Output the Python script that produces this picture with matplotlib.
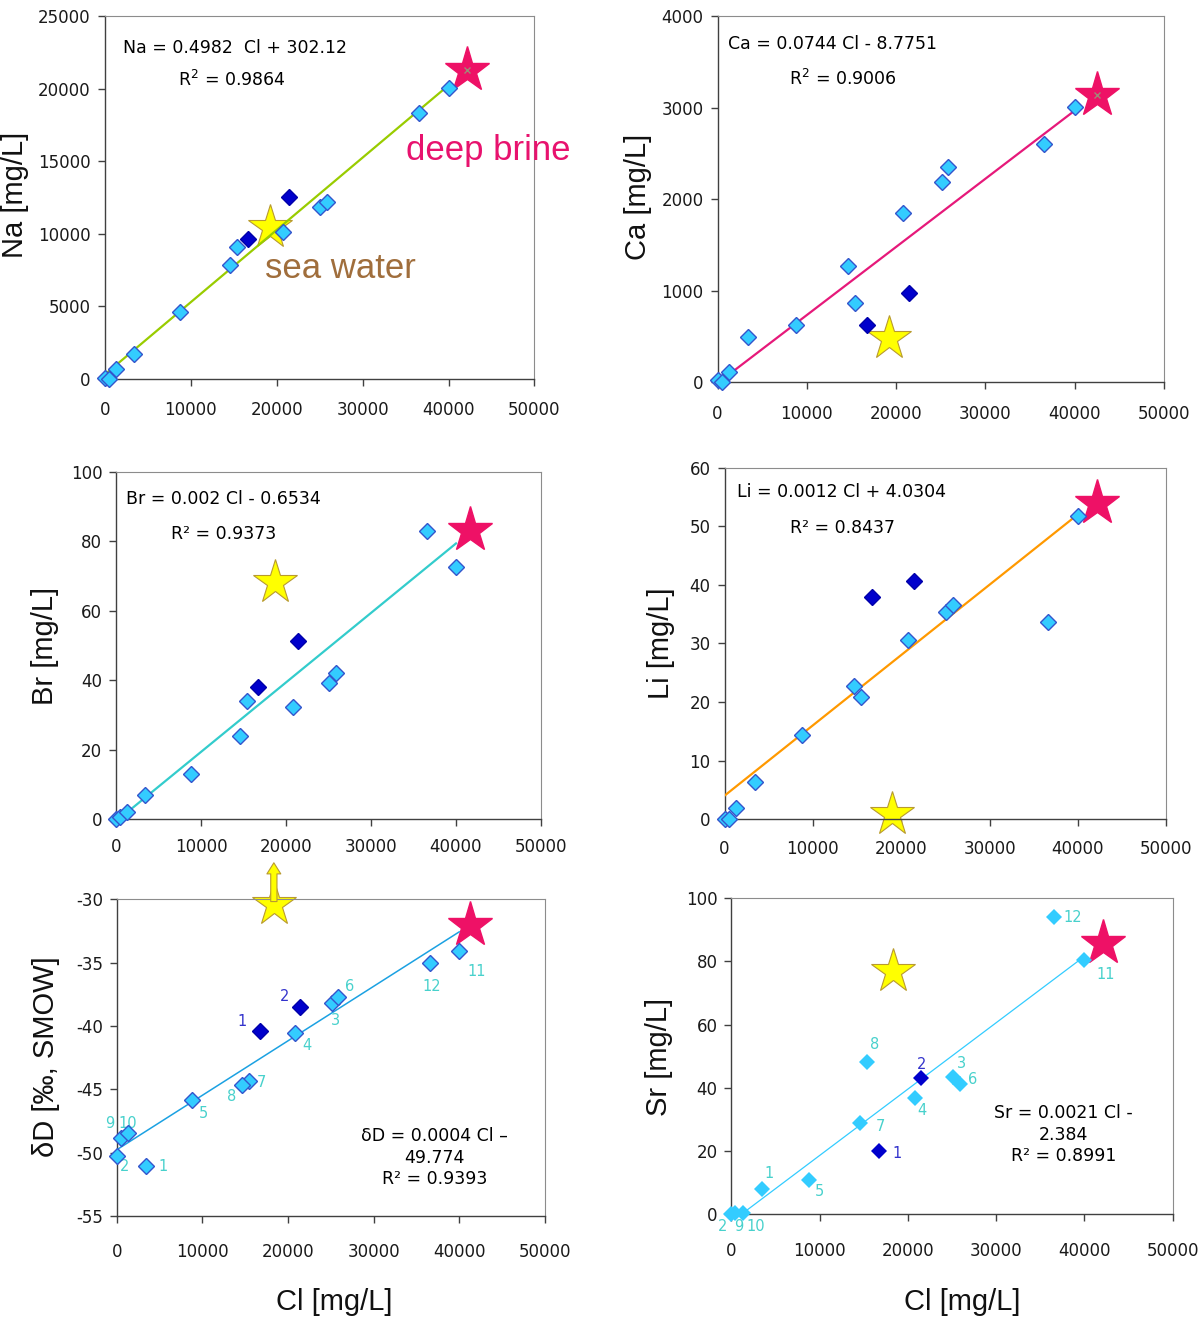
import numpy as np
import matplotlib.pyplot as plt

plt.rcParams['axes.unicode_minus'] = False
plt.rcParams['font.family'] = ['DejaVu Sans']

# wells 1-12 (light blue) and 1-2 (dark blue); Cl in mg/L
sample_ids = ['1', '2', '3', '4', '5', '6', '7', '8', '9', '10', '11', '12']
dark_ids = ['1', '2']
cl = np.array([3420, 0, 25100, 20800, 8750, 25850, 15400, 14620, 450, 1300, 40000, 36580])
cl_dark = np.array([16720, 21450])

na = [1750, 50, 11870, 10150, 4640, 12220, 9070, 7850, 30, 700, 20020, 18300]
na_dark = [9620, 12560]
ca = [491, 25, 2184, 1845, 626, 2348, 862, 1274, 7, 116, 3010, 2599]
ca_dark = [626, 971]
br = [6.9, 0, 39.3, 32.3, 13.0, 41.9, 34.1, 24.0, 0.7, 2.1, 72.6, 82.9]
br_dark = [37.9, 51.3]
li = [6.4, 0, 35.4, 30.6, 14.3, 36.5, 20.8, 22.8, 0, 2.0, 51.8, 33.6]
li_dark = [38.0, 40.6]
dd = [-51.05, -50.26, -38.21, -40.53, -45.84, -37.68, -44.32, -44.66, -48.87, -48.47, -34.08, -35.05]
dd_dark = [-40.39, -38.53]
sr = [7.9, 0, 43.4, 36.7, 10.7, 41.1, 48.1, 28.8, 0.5, 0.5, 80.3, 94.0]
sr_dark = [20.1, 43.0]
sr_ids = ['1', '2', '3', '4', '5', '6', '8', '7', '9', '10', '11', '12']

# end members per panel: Na, Ca, Br, Li, dD, Sr
sea_cl = [19250, 19230, 18710, 18990, 18350, 18320]
sea_val = [10500, 480, 68.3, 0.85, -30.4, 77.0]
brine_cl = [42200, 42530, 41700, 42150, 41320, 42100]
brine_val = [21280, 3137, 83.2, 53.9, -32.0, 85.8]

# regression lines
fit_slope = [0.4982, 0.0744, 0.002, 0.0012, 0.00043, 0.0021]
fit_icpt = [302.12, -8.7751, -0.6534, 4.0304, -49.774, -2.384]

LIGHT = '#33CCFF'
EDGE = '#3355CC'
DARK = '#0000CC'
RED = '#EE1166'
YEL = '#FFFF00'
LAB_LIGHT = '#48D1CC'
LAB_DARK = '#3333CC'
FAM = ['Liberation Sans', 'DejaVu Sans']

fig = plt.figure(figsize=(12, 13.18), dpi=100)
rects = [[0.0872, 0.7124, 0.3582, 0.2754], [0.5980, 0.7099, 0.3719, 0.2779],
         [0.0968, 0.3786, 0.3540, 0.2635], [0.6038, 0.3784, 0.3681, 0.2668],
         [0.0973, 0.0774, 0.3567, 0.2403], [0.6095, 0.0787, 0.3678, 0.2398]]
axes = [fig.add_axes(r) for r in rects]


def frame(ax, ylim, ystep, ylabel, lab_xy, xpad):
    ax.set_xlim(0, 50000)
    ax.set_xticks(np.arange(0, 50001, 10000))
    ax.set_ylim(*ylim)
    ax.set_yticks(np.arange(ylim[0], ylim[1] + ystep / 2, ystep))
    for s in ['left', 'bottom']:
        ax.spines[s].set_color('#404040')
        ax.spines[s].set_linewidth(1.0)
    for s in ['top', 'right']:
        ax.spines[s].set_color('#8c8c8c')
        ax.spines[s].set_linewidth(0.8)
    ax.tick_params(direction='out', length=5, width=1, color='#404040',
                   labelsize=12, labelcolor='#1a1a1a')
    ax.tick_params(axis='x', pad=xpad)
    ax.tick_params(axis='y', pad=5)
    ax.set_ylabel(ylabel, fontsize=21, family=FAM, va='center', color='#111111')
    ax.yaxis.set_label_coords(*lab_xy)


def draw(ax, i, y, y_dark, edge=EDGE, line_color='k', lw=1.6, ms=8):
    x = np.array([cl.min(), cl.max()])
    ax.plot(x, fit_slope[i] * x + fit_icpt[i], color=line_color, lw=lw, zorder=3)
    ax.plot(brine_cl[i], brine_val[i], marker='*', ms=34, color=RED, mec=RED,
            ls='none', zorder=2, clip_on=False)
    ax.plot(sea_cl[i], sea_val[i], marker='*', ms=33, color=YEL, mec='#B89A30',
            mew=0.8, ls='none', zorder=2, clip_on=False)
    mew = 1.0 if edge != 'none' else 0
    ax.plot(cl, y, 'D', ms=ms, mfc=LIGHT, mec=edge, mew=mew, zorder=4, clip_on=False)
    ax.plot(cl_dark, y_dark, 'D', ms=ms, mfc=DARK, mec='#0000AA', mew=mew,
            zorder=4, clip_on=False)


def number(ax, xs, ys, ids, offs, color):
    for x, y, t, o in zip(xs, ys, ids, offs):
        ax.annotate(t, (x, y), xytext=o, textcoords='offset pixels', color=color,
                    fontsize=10.5, ha='center', va='center', annotation_clip=False)


# Na
ax = axes[0]
frame(ax, (0, 25000), 5000, 'Na [mg/L]', (-0.208, 0.507), 10.5)
draw(ax, 0, na, na_dark, line_color='#99CC00')
ax.plot(brine_cl[0], brine_val[0], 'x', ms=5, color='#A08878', mew=1, zorder=3)
ax.text(0.042, 0.911, 'Na = 0.4982  Cl + 302.12', transform=ax.transAxes,
        fontsize=12.5, va='center')
ax.text(0.171, 0.824, 'R$^2$ = 0.9864', transform=ax.transAxes, fontsize=12.5, va='center')
ax.text(0.70, 0.631, 'deep brine', transform=ax.transAxes, fontsize=25,
        family=FAM, color='#E8126E', va='center')
ax.text(0.374, 0.305, 'sea water', transform=ax.transAxes, fontsize=25,
        family=FAM, color='#A06E3C', va='center')

# Ca
ax = axes[1]
frame(ax, (0, 4000), 1000, 'Ca [mg/L]', (-0.179, 0.506), 11.5)
draw(ax, 1, ca, ca_dark, line_color='#E6197A')
ax.plot(brine_cl[1], brine_val[1], 'x', ms=5, color='#A08878', mew=1, zorder=3)
ax.text(0.024, 0.925, 'Ca = 0.0744 Cl - 8.7751', transform=ax.transAxes,
        fontsize=12.5, va='center')
ax.text(0.160, 0.828, 'R$^2$ = 0.9006', transform=ax.transAxes, fontsize=12.5, va='center')

# Br
ax = axes[2]
frame(ax, (0, 100), 20, 'Br [mg/L]', (-0.167, 0.498), 9)
draw(ax, 2, br, br_dark, line_color='#33CCCC')
ax.text(0.024, 0.920, 'Br = 0.002 Cl - 0.6534', transform=ax.transAxes,
        fontsize=12.5, va='center')
ax.text(0.130, 0.822, 'R² = 0.9373', transform=ax.transAxes, fontsize=12.5, va='center')

# Li
ax = axes[3]
frame(ax, (0, 60), 10, 'Li [mg/L]', (-0.143, 0.50), 10)
draw(ax, 3, li, li_dark, line_color='#FF9900')
ax.text(0.029, 0.932, 'Li = 0.0012 Cl + 4.0304', transform=ax.transAxes,
        fontsize=12.5, va='center')
ax.text(0.149, 0.829, 'R² = 0.8437', transform=ax.transAxes, fontsize=12.5, va='center')

# delta D
ax = axes[4]
frame(ax, (-55, -30), 5, 'δD [‰, SMOW]', (-0.165, 0.502), 14.5)
draw(ax, 4, dd, dd_dark, line_color='#1BA1E2', lw=1.1)
ax.annotate('', xy=(sea_cl[4], -26.9), xytext=(sea_cl[4], -30.4),
            arrowprops=dict(arrowstyle='simple,head_width=1.0,head_length=0.8,tail_width=0.45',
                            fc=YEL, ec='#B89A30', lw=0.8),
            annotation_clip=False, zorder=5)
dd_offs = [(17, -1), (8, -11), (4, -17), (12, -13), (12, -14), (12, 10),
           (13, -2), (-10, -12), (-11, 15), (0, 10), (17, -21), (2, -23)]
number(ax, cl, dd, sample_ids, dd_offs, LAB_LIGHT)
number(ax, cl_dark, dd_dark, dark_ids, [(-18, 9), (-16, 11)], LAB_DARK)
ax.text(0.743, 0.184, 'δD = 0.0004 Cl –\n49.774\nR² = 0.9393', transform=ax.transAxes,
        fontsize=12.5, ha='center', va='center', linespacing=1.25)
ax.set_xlabel('Cl [mg/L]', fontsize=21, family=FAM, va='center', color='#111111')
ax.xaxis.set_label_coords(0.507, -0.272)

# Sr
ax = axes[5]
frame(ax, (0, 100), 20, 'Sr [mg/L]', (-0.163, 0.498), 15)
draw(ax, 5, sr, sr_dark, edge='none', line_color='#33CCFF', lw=0.9, ms=8.5)
sr_offs = [(7, 16), (-9, -12), (9, 14), (7, -12), (11, -11), (13, 5),
           (7, 18), (20, -3), (3, -14), (13, -14), (21, -14), (18, 0)]
number(ax, cl, sr, sr_ids, sr_offs, LAB_LIGHT)
number(ax, cl_dark, sr_dark, dark_ids, [(18, -3), (1, 14)], LAB_DARK)
ax.text(0.753, 0.251, 'Sr = 0.0021 Cl -\n2.384\nR² = 0.8991', transform=ax.transAxes,
        fontsize=12.5, ha='center', va='center', linespacing=1.25)
ax.set_xlabel('Cl [mg/L]', fontsize=21, family=FAM, va='center', color='#111111')
ax.xaxis.set_label_coords(0.523, -0.278)

fig.savefig('out.png', dpi=100)
